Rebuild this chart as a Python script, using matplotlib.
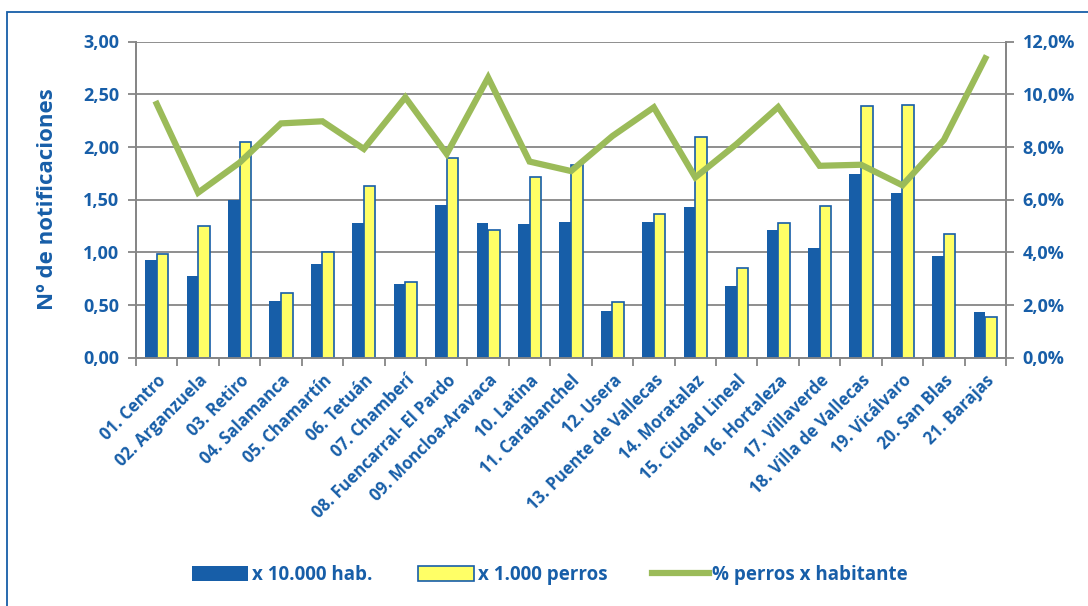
import numpy as np
import matplotlib.pyplot as plt
from matplotlib.ticker import FuncFormatter, FixedLocator
from matplotlib.patches import Rectangle

# Data
distritos = ["01. Centro", "02. Arganzuela", "03. Retiro", "04. Salamanca", "05. Chamartín",
             "06. Tetuán", "07. Chamberí", "08. Fuencarral- El Pardo", "09. Moncloa-Aravaca",
             "10. Latina", "11. Carabanchel", "12. Usera", "13. Puente de Vallecas",
             "14. Moratalaz", "15. Ciudad Lineal", "16. Hortaleza", "17. Villaverde",
             "18. Villa de Vallecas", "19. Vicálvaro", "20. San Blas", "21. Barajas"]
por_hab = [0.93, 0.77, 1.50, 0.54, 0.89, 1.28, 0.70, 1.45, 1.28, 1.27, 1.29,
           0.44, 1.29, 1.43, 0.68, 1.21, 1.04, 1.74, 1.56, 0.96, 0.43]
por_perros = [0.98, 1.25, 2.05, 0.61, 1.00, 1.63, 0.72, 1.89, 1.21, 1.71, 1.83,
              0.53, 1.36, 2.09, 0.85, 1.28, 1.44, 2.39, 2.40, 1.17, 0.38]
pct_perros = [9.63, 6.26, 7.40, 8.89, 8.97, 7.92, 9.88, 7.73, 10.63, 7.44, 7.08,
              8.41, 9.50, 6.84, 8.11, 9.51, 7.28, 7.32, 6.54, 8.26, 11.36]

azul = '#175EA8'
amarillo = '#FFFF66'
verde = '#9BBB59'
gris = '#868686'
plt.rcParams['font.family'] = ['Open Sans', 'DejaVu Sans']

fig = plt.figure(figsize=(10.88, 6.06), dpi=100)
ax = fig.add_axes([136/1088, 1-357.5/606, 870/1088, 316/606])
ax2 = ax.twinx()

x = np.arange(len(distritos))
w = 0.28
ax.bar(x - w/2, por_hab, w, color=azul, zorder=3, label='x 10.000 hab.')
ax.bar(x + w/2, por_perros, w, color=amarillo, edgecolor=azul, linewidth=1.2, zorder=3,
       label='x 1.000 perros')
ax2.plot(x, pct_perros, color=verde, linewidth=4.5, solid_joinstyle='miter',
         label='% perros x habitante', zorder=4)

ax.set_xlim(-0.5, len(distritos) - 0.5)
ax.set_ylim(0, 3.0)
ax2.set_ylim(0, 12.0)
ax.set_yticks(np.arange(0, 3.01, 0.5))
ax2.set_yticks(np.arange(0, 12.01, 2))
ax.yaxis.set_major_formatter(FuncFormatter(lambda v, p: f"{v:.2f}".replace('.', ',')))
ax2.yaxis.set_major_formatter(FuncFormatter(lambda v, p: f"{v:.1f}%".replace('.', ',')))

ax.grid(axis='y', color=gris, linewidth=1.3, zorder=0)
ax.set_axisbelow(True)

# ticks between categories, names centred under each pair of bars
ax.xaxis.set_major_locator(FixedLocator(np.arange(-0.5, len(distritos), 1)))
ax.set_xticklabels([])
ax.set_xticks(x, minor=True)
ax.set_xticklabels(distritos, minor=True, rotation=45, ha='right', va='top',
                   rotation_mode='anchor', color=azul, fontweight='bold', fontsize=12)
ax.tick_params(axis='x', which='major', length=6, color=gris, width=1.3, direction='out')
ax.tick_params(axis='x', which='minor', length=0, pad=10)

for a in (ax, ax2):
    a.spines['top'].set_visible(False)
    for s in ('left', 'right', 'bottom'):
        a.spines[s].set_color(gris)
        a.spines[s].set_linewidth(1.3)
ax.tick_params(axis='y', length=6, color=gris, width=1.3, labelcolor=azul,
               labelsize=13, pad=6)
ax2.tick_params(axis='y', length=6, color=gris, width=1.3, labelcolor=azul,
                labelsize=13, pad=6)
for lab in ax.get_yticklabels() + ax2.get_yticklabels():
    lab.set_fontweight('bold')

ax.set_ylabel('Nº de notificaciones', color=azul, fontweight='bold', fontsize=16, labelpad=18)

h1, l1 = ax.get_legend_handles_labels()
h2, l2 = ax2.get_legend_handles_labels()
leg = fig.legend(h1 + h2, l1 + l2, loc='center', bbox_to_anchor=(550/1088, 1-575/606), ncol=3,
                 frameon=False, handlelength=3.0, handleheight=0.8, columnspacing=2.4,
                 handletextpad=0.2, prop={'weight': 'bold', 'size': 13.5})
for t in leg.get_texts():
    t.set_color(azul)

# blue frame around the chart
fig.patches.append(Rectangle((7/1088, -0.05), 1.2, 1-12/606 + 0.05, transform=fig.transFigure,
                             fill=False, edgecolor=azul, linewidth=1.3))

fig.savefig('out.png', dpi=100)
